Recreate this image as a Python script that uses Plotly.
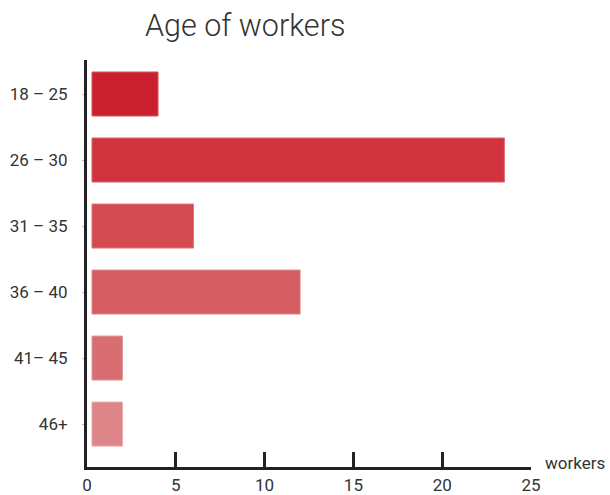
import plotly.graph_objects as go

categories = ["18 – 25", "26 – 30", "31 – 35", "36 – 40", "41– 45", "46+"]
workers = [4, 23.5, 6, 12, 2, 2]
colors = ["#c9222e", "#cf333d", "#d34a50", "#d55d62", "#d86e72", "#de8589"]
edge_colors = ["#d85a63", "#dc6670", "#df7a80", "#e08a8e", "#e29a9d", "#e8abae"]
x_ticks = [0, 5, 10, 15, 20, 25]

GAP = 0.28  # visual gap between axis and bar start

fig = go.Figure(go.Bar(
    y=categories,
    x=[v - GAP for v in workers],
    base=GAP,
    orientation="h",
    width=0.667,
    marker=dict(color=colors, line=dict(color=edge_colors, width=1)),
    hoverinfo="skip",
))

fig.update_layout(
    width=610, height=495,
    margin=dict(l=87, r=79, t=60, b=28),
    paper_bgcolor="white", plot_bgcolor="white",
    font=dict(family="Roboto", color="#333333", size=17),
    title=dict(text="Age of workers", x=145/610, xanchor="left", xref="container",
               y=1 - 25/495, yanchor="middle", yref="container",
               font=dict(size=30.5, color="#333333", family="Roboto", weight=300)),
    showlegend=False,
)

fig.update_xaxes(
    range=[0, 25], tickvals=x_ticks, ticktext=[str(t) for t in x_ticks],
    showgrid=False, zeroline=False, automargin=False,
    showline=True, linecolor="#222222", linewidth=3,
    ticks="inside", ticklen=15, tickwidth=3, tickcolor="#222222",
    ticklabelstandoff=1,
    tickfont=dict(size=17, color="#333333"),
)
fig.update_yaxes(
    categoryorder="array", categoryarray=categories,
    range=[5.65, -0.515], automargin=False,
    showgrid=False, zeroline=False,
    showline=True, linecolor="#222222", linewidth=3,
    ticks="outside", ticklen=2, tickwidth=1, tickcolor="#bbbbbb",
    ticklabelstandoff=11,
    tickfont=dict(size=17, color="#333333"),
)

fig.add_annotation(text="workers", xref="paper", yref="paper",
                   x=1, xshift=12, xanchor="left", y=0, yshift=4, yanchor="middle",
                   showarrow=False, font=dict(size=17, color="#333333"))

fig.write_html("out.html")
